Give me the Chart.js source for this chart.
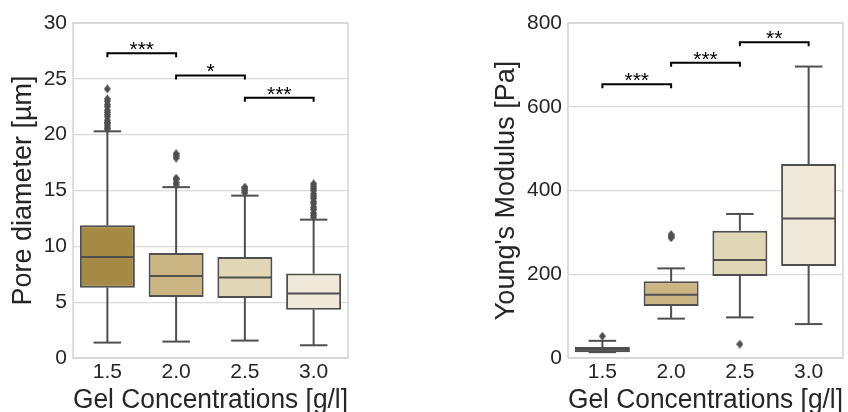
<!DOCTYPE html>
<html>
<head>
<meta charset="utf-8">
<script src="https://cdn.jsdelivr.net/npm/chart.js@4/dist/chart.umd.min.js"></script>
<style>
  html, body { margin: 0; padding: 0; background: #fff; }
  body { width: 848px; height: 412px; position: relative; overflow: hidden; }
  canvas { position: absolute; top: 0; }
  #poreChart { left: 0; }
  #modChart { left: 440px; }
</style>
</head>
<body>
<canvas id="poreChart" width="360" height="412"></canvas>
<canvas id="modChart" width="408" height="412"></canvas>
<script>
const categories = ['1.5', '2.0', '2.5', '3.0'];
const boxColors = ['#a58a46', '#cbb683', '#e1d6b5', '#f0e9d9'];

// pore diameter [µm] per concentration
const poreQ1 = [6.3, 5.46, 5.37, 4.33];
const poreMed = [9.04, 7.34, 7.2, 5.77];
const poreQ3 = [11.88, 9.4, 9.04, 7.56];
const poreLow = [1.38, 1.47, 1.56, 1.14];
const poreHigh = [20.3, 15.3, 14.54, 12.39];
const poreOutliers = [
  [20.5, 20.6, 20.8, 21.0, 21.1, 21.3, 21.6, 21.8, 22.0, 22.2, 22.5, 22.7, 23.0, 23.2, 24.1],
  [15.5, 15.7, 16.0, 16.1, 17.9, 18.1, 18.3],
  [14.8, 15.0, 15.2, 15.3],
  [12.6, 12.8, 13.0, 13.3, 13.5, 13.8, 14.0, 14.3, 14.5, 14.7, 15.0, 15.2, 15.4, 15.6]
];
const poreSigPairs = [[0, 1], [1, 2], [2, 3]];
const poreSigLevels = [27.3, 25.3, 23.3];
const poreSigLabels = ['***', '*', '***'];

// Young's modulus [Pa] per concentration
const modQ1 = [14, 124, 196, 220];
const modMed = [20, 151, 234, 333];
const modQ3 = [26, 183, 304, 463];
const modLow = [14, 94, 97, 81];
const modHigh = [41, 214, 344, 696];
const modOutliers = [[52], [287, 291, 295], [33], []];
const modSigPairs = [[0, 1], [1, 2], [2, 3]];
const modSigLevels = [654, 705, 754];
const modSigLabels = ['***', '***', '**'];

const lineColor = '#4f4f4f';
const textColor = '#262626';
const gridColor = '#dadada';
const fontFamily = '"Liberation Sans", Arial, sans-serif';

// thin diamond marker for the fliers
const diamond = document.createElement('canvas');
diamond.width = 7;
diamond.height = 9;
(function () {
  const c = diamond.getContext('2d');
  c.fillStyle = lineColor;
  c.beginPath();
  c.moveTo(3.5, 0);
  c.lineTo(7, 4.5);
  c.lineTo(3.5, 9);
  c.lineTo(0, 4.5);
  c.closePath();
  c.fill();
})();

// whiskers, caps, medians, frame and significance brackets
const boxDetails = {
  id: 'boxDetails',
  beforeDatasetsDraw(chart) {
    const {ctx, chartArea: a} = chart;
    ctx.save();
    ctx.strokeStyle = '#d4d4d4';
    ctx.lineWidth = 1.5;
    ctx.strokeRect(a.left, a.top, a.right - a.left, a.bottom - a.top);
    ctx.restore();
  },
  afterDatasetsDraw(chart, args, opts) {
    const {ctx} = chart;
    const y = chart.scales.y;
    const bars = chart.getDatasetMeta(0).data;
    ctx.save();
    ctx.strokeStyle = lineColor;
    ctx.lineWidth = 2;
    const seg = (x1, y1, x2, y2) => {
      ctx.beginPath();
      ctx.moveTo(x1, y1);
      ctx.lineTo(x2, y2);
      ctx.stroke();
    };
    bars.forEach((bar, i) => {
      const half = bar.width / 2;
      const cap = bar.width / 4;
      const top = Math.min(bar.y, bar.base);
      const bottom = Math.max(bar.y, bar.base);
      const hi = y.getPixelForValue(opts.high[i]);
      const lo = y.getPixelForValue(opts.low[i]);
      if (hi < top) seg(bar.x, hi, bar.x, top);
      seg(bar.x - cap, hi, bar.x + cap, hi);
      if (lo > bottom) seg(bar.x, bottom, bar.x, lo);
      seg(bar.x - cap, lo, bar.x + cap, lo);
      const med = y.getPixelForValue(opts.median[i]);
      seg(bar.x - half + 1, med, bar.x + half - 1, med);
    });

    ctx.strokeStyle = '#000';
    ctx.fillStyle = '#000';
    ctx.lineWidth = 2;
    ctx.font = '21px ' + fontFamily;
    ctx.textAlign = 'center';
    ctx.textBaseline = 'alphabetic';
    opts.sigPairs.forEach(([a, b], k) => {
      const x1 = bars[a].x, x2 = bars[b].x;
      const yy = y.getPixelForValue(opts.sigLevels[k]);
      ctx.beginPath();
      ctx.moveTo(x1, yy + 4);
      ctx.lineTo(x1, yy);
      ctx.lineTo(x2, yy);
      ctx.lineTo(x2, yy + 4);
      ctx.stroke();
      ctx.fillText(opts.sigLabels[k], (x1 + x2) / 2, yy + 3);
    });
    ctx.restore();
  }
};

function makeBoxChart(id, q1, med, q3, low, high, outliers, sig, yCfg) {
  const fliers = [];
  outliers.forEach((vals, i) => vals.forEach(v => fliers.push({x: categories[i], y: v})));

  return new Chart(document.getElementById(id), {
    type: 'bar',
    data: {
      labels: categories,
      datasets: [{
        data: q1.map((v, i) => [v, q3[i]]),
        backgroundColor: boxColors,
        borderColor: lineColor,
        borderWidth: 2,
        borderSkipped: false,
        barPercentage: 0.8,
        categoryPercentage: 1.0
      }, {
        type: 'scatter',
        data: fliers,
        pointStyle: diamond,
        pointRadius: 4
      }]
    },
    options: {
      responsive: false,
      animation: false,
      events: [],
      layout: {padding: {left: 0, right: yCfg.padRight, top: 23, bottom: 0}},
      plugins: {
        legend: {display: false},
        tooltip: {enabled: false},
        boxDetails: {
          median: med, low: low, high: high,
          sigPairs: sig.pairs, sigLevels: sig.levels, sigLabels: sig.labels
        }
      },
      scales: {
        x: {
          type: 'category',
          offset: true,
          grid: {display: false, drawTicks: false},
          border: {display: false},
          ticks: {color: textColor, font: {family: fontFamily, size: 21}, padding: 1.5},
          title: {
            display: true,
            text: 'Gel Concentrations [g/l]',
            color: textColor,
            font: {family: fontFamily, size: 27, lineHeight: 1},
            padding: {top: 0, bottom: -1.8}
          },
          afterFit: s => { s.height = 54; }
        },
        y: {
          min: 0,
          max: yCfg.max,
          grid: {color: gridColor, lineWidth: 1.2, drawTicks: false},
          border: {display: false},
          ticks: {stepSize: yCfg.step, color: textColor, font: {family: fontFamily, size: 21}, padding: 6},
          title: {
            display: true,
            text: yCfg.title,
            color: textColor,
            font: {family: fontFamily, size: 27, lineHeight: 1.2},
            padding: {top: yCfg.titlePad, bottom: 0}
          },
          afterFit: s => { s.width = yCfg.width; }
        }
      }
    },
    plugins: [boxDetails]
  });
}

makeBoxChart('poreChart', poreQ1, poreMed, poreQ3, poreLow, poreHigh, poreOutliers,
  {pairs: poreSigPairs, levels: poreSigLevels, labels: poreSigLabels},
  {max: 30, step: 5, title: 'Pore diameter [µm]', width: 73, padRight: 12, titlePad: 7.8});

makeBoxChart('modChart', modQ1, modMed, modQ3, modLow, modHigh, modOutliers,
  {pairs: modSigPairs, levels: modSigLevels, labels: modSigLabels},
  {max: 800, step: 200, title: "Young's Modulus [Pa]", width: 128, padRight: 5, titlePad: 50.3});
</script>
</body>
</html>
